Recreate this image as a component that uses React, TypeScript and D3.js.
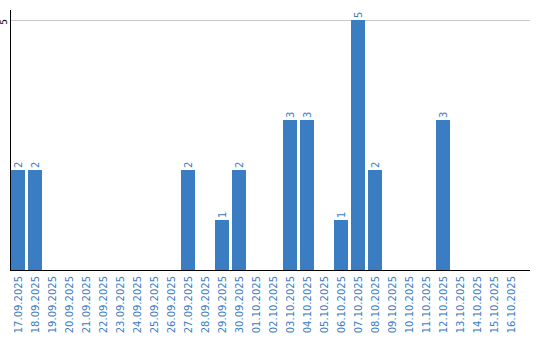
import React from "react";
import * as d3 from "d3";

const categories = [
  "17.09.2025","18.09.2025","19.09.2025","20.09.2025","21.09.2025","22.09.2025","23.09.2025","24.09.2025","25.09.2025","26.09.2025",
  "27.09.2025","28.09.2025","29.09.2025","30.09.2025","01.10.2025","02.10.2025","03.10.2025","04.10.2025","05.10.2025","06.10.2025",
  "07.10.2025","08.10.2025","09.10.2025","10.10.2025","11.10.2025","12.10.2025","13.10.2025","14.10.2025","15.10.2025","16.10.2025",
];
const values = [2,2,0,0,0,0,0,0,0,0, 2,0,1,2,0,0,3,3,0,1, 5,2,0,0,0,3,0,0,0,0];
const yTicks = [5];

const W = 540, H = 340;
const left = 11, bottom = 270, top = 20, right = 530;
const BLUE = "#3b7dc3";
const FONT = "'DejaVu Sans', Verdana, sans-serif";

export default function App() {
  const x = d3.scaleBand<string>().domain(categories).range([left, left + 17 * 30 - 3]).paddingInner(3 / 17).paddingOuter(0);
  const y = d3.scaleLinear().domain([0, 5]).range([bottom, top]);
  return (
    <svg width={W} height={H} style={{ position: "absolute", left: 0, top: 0, background: "#fff" }} shapeRendering="crispEdges">
      {yTicks.map((t) => (
        <g key={t}>
          <line x1={left} x2={right} y1={y(t)} y2={y(t)} stroke="#c8c8c8" strokeWidth={1} />
          <text transform={`translate(4,${y(t) + 2}) rotate(-90)`} dy="0.35em" textAnchor="middle" fontSize={9} fontFamily={FONT} fill="#000">{t}</text>
        </g>
      ))}
      {categories.map((c, i) => {
        const v = values[i];
        const bx = x(c)!;
        const bw = x.bandwidth();
        return (
          <g key={c}>
            {v > 0 && <rect x={bx} y={y(v)} width={bw} height={bottom - y(v)} fill={BLUE} />}
            {v > 0 && (
              <text transform={`translate(${bx + bw / 2},${y(v) - 2}) rotate(-90)`} dy="0.35em" textAnchor="start" fontSize={10} fontFamily={FONT} fill={BLUE}>{v}</text>
            )}
            <text transform={`translate(${bx + bw / 2},${bottom + 6}) rotate(-90)`} dy="0.35em" textAnchor="end" fontSize={10} fontFamily={FONT} fill={BLUE}>{c}</text>
          </g>
        );
      })}
      <line x1={left - 0.5} x2={left - 0.5} y1={10} y2={bottom} stroke="#000" strokeWidth={1.5} />
      <line x1={left - 1} x2={right} y1={bottom + 0.5} y2={bottom + 0.5} stroke="#000" strokeWidth={1.5} />
    </svg>
  );
}
